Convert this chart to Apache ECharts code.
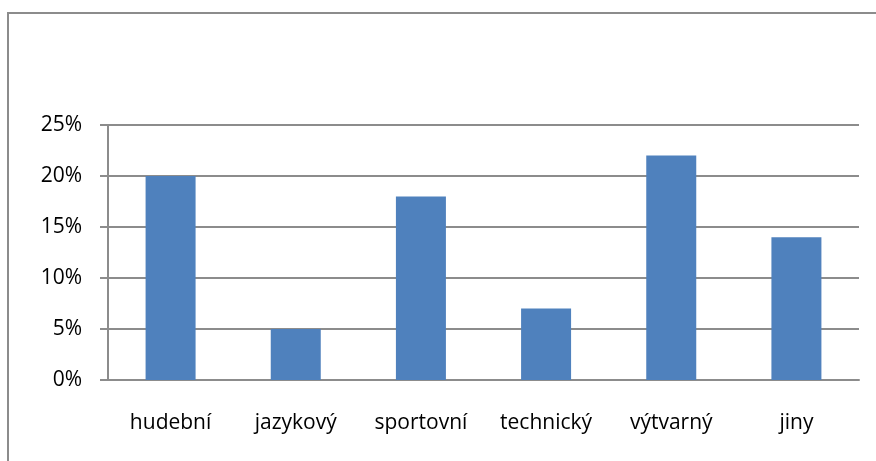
<!DOCTYPE html>
<html>
<head>
<meta charset="utf-8">
<script src="https://cdn.jsdelivr.net/npm/echarts@6/dist/echarts.min.js"></script>
<style>
  html, body { margin: 0; padding: 0; background: #fff; }
  #chart { width: 876px; height: 461px; }
</style>
</head>
<body>
<div id="chart"></div>
<script>
var categories = ['hudební', 'jazykový', 'sportovní', 'technický', 'výtvarný', 'jiny'];
var values = [20, 5, 18, 7, 22, 14];

var chart = echarts.init(document.getElementById('chart'));

chart.setOption({
    animation: false,
    graphic: [{
        type: 'rect',
        shape: { x: 8, y: 13, width: 900, height: 500 },
        style: { fill: 'none', stroke: '#8c8c8c', lineWidth: 2 }
    }],
    grid: {
        left: 108,
        right: 17,
        top: 125,
        bottom: 81
    },
    xAxis: {
        type: 'category',
        data: categories,
        axisLine: { lineStyle: { color: '#8c8c8c', width: 2 } },
        axisTick: { length: 8, lineStyle: { color: '#8c8c8c', width: 2 } },
        axisLabel: {
            interval: 0,
            hideOverlap: false,
            color: '#000',
            fontFamily: 'Open Sans',
            fontSize: 21,
            margin: 33
        }
    },
    yAxis: {
        type: 'value',
        min: 0,
        max: 25,
        interval: 5,
        axisLine: { show: true, lineStyle: { color: '#8c8c8c', width: 2 } },
        axisTick: { show: true, length: 8, lineStyle: { color: '#8c8c8c', width: 2 } },
        splitLine: { lineStyle: { color: '#8c8c8c', width: 2 } },
        axisLabel: {
            color: '#000',
            fontFamily: 'Open Sans',
            fontSize: 21,
            margin: 26,
            formatter: '{value}%'
        }
    },
    series: [{
        type: 'bar',
        data: values,
        barWidth: 50,
        itemStyle: { color: '#4f81bd' }
    }]
});
</script>
</body>
</html>
